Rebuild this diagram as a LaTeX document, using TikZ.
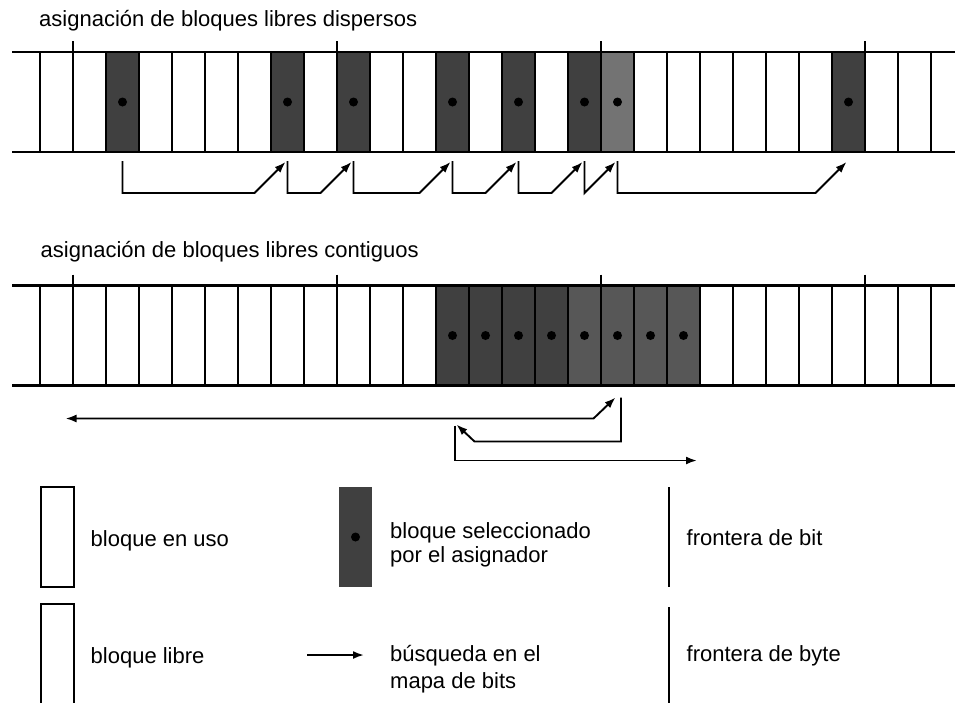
\documentclass[tikz,border=0pt]{standalone}
\usepackage{fontspec}
\setmainfont{Liberation Sans}
\usetikzlibrary{arrows.meta}

\begin{document}
\begin{tikzpicture}[x=1pt,y=-1pt,
cell/.style={minimum width=33pt,minimum height=100pt,inner sep=0pt,outer sep=0pt},
sel/.style={fill=black!75},
sep/.style={line width=1.6pt},
bytesep/.style={line width=2.2pt},
rail/.style={line width=2.6pt},
search/.style={-{Latex[length=11pt,width=8pt]},line width=1.9pt},
dot/.style={circle,fill=black,inner sep=0pt,minimum size=9pt},
lbl/.style={anchor=base west,inner sep=0pt,font=\fontsize{22}{25}\selectfont}]
\useasboundingbox (0,0) rectangle (955,702);
\clip (0,0) rectangle (955,702);
\node[lbl] (titulo1) at (39,26) {asignación de bloques libres dispersos};
\node[lbl] (titulo2) at (40.5,257) {asignación de bloques libres contiguos};
\foreach \i in {0,...,27} {
  \node[cell] (p\i) at ({56.5+33*\i},102) {};
  \node[cell] (q\i) at ({56.5+33*\i},335.5) {};
}
\foreach \i in {2,7,9,12,14,16,24} \fill[sel] (p\i.north west) rectangle (p\i.south east);
\fill[black!55] (p17.north west) rectangle (p17.south east);
\foreach \i in {12,...,15} \fill[sel] (q\i.north west) rectangle (q\i.south east);
\foreach \i in {16,...,19} \fill[black!66] (q\i.north west) rectangle (q\i.south east);
\foreach \i in {0,...,27} {
  \draw[sep] (p\i.north west) -- (p\i.south west);
  \draw[sep] (q\i.north west) -- (q\i.south west);
}
\foreach \i in {1,9,17,25} {
  \draw[bytesep] ([yshift=11pt]p\i.north west) -- (p\i.south west);
  \draw[bytesep] ([yshift=11pt]q\i.north west) -- (q\i.south west);
}
\draw[rail] (12,52) -- (960,52);
\draw[rail] (12,152) -- (960,152);
\draw[rail] (12,285.5) -- (960,285.5);
\draw[rail] (12,385.5) -- (960,385.5);
\foreach \i in {2,7,9,12,14,16,17,24} \node[dot] at (p\i) {};
\foreach \i in {12,...,19} \node[dot] at (q\i) {};
\foreach \a/\b in {2/7,7/9,9/12,12/14,14/16,16/17,17/24}
  \draw[search] ([yshift=-9pt]p\a.south) |- ([xshift=-33pt,yshift=-41pt]p\b.south) -- ([xshift=-2pt,yshift=-10pt]p\b.south);
\draw[search,{Latex[length=11pt,width=8pt]}-{Latex[length=11pt,width=8pt]}] ([xshift=9pt,yshift=-33pt]q0.south) -- ([xshift=-24pt,yshift=-33pt]q17.south) -- ([xshift=-2pt,yshift=-12pt]q17.south);
\draw[search] ([xshift=3.5pt,yshift=-12pt]q17.south) -- ([xshift=3.5pt,yshift=-56pt]q17.south) -- ([xshift=22pt,yshift=-56pt]q12.south) -- ([xshift=4pt,yshift=-39pt]q12.south);
\draw[search] ([xshift=2.5pt,yshift=-40pt]q12.south) |- ([xshift=-3pt,yshift=-75pt]q19.south east);
\node[cell,draw,line width=1.4pt] (uso) at (57.3,537) {};
\node[cell,draw,line width=1.4pt,minimum height=110pt] (libre) at (57.3,659) {};
\node[cell,sel] (elegido) at (355.5,537) {};
\node[dot] at (elegido) {};
\coordinate (bitA) at (669,487);
\coordinate (bitB) at (669,587);
\coordinate (byteA) at (669,607);
\coordinate (byteB) at (669,710);
\coordinate (busA) at (307,655);
\coordinate (busB) at (364,655);
\draw[line width=1.3pt] (bitA) -- (bitB);
\draw[line width=2pt] (byteA) -- (byteB);
\draw[search] (busA) -- (busB);
\node[lbl] (usotxt) at (90.5,546.5) {bloque en uso};
\node[lbl] (libretxt) at (90.5,663) {bloque libre};
\node[lbl] (seltxtA) at (390,538) {bloque seleccionado};
\node[lbl] (seltxtB) at (390,562) {por el asignador};
\node[lbl] (bustxtA) at (390,661.5) {búsqueda en el};
\node[lbl] (bustxtB) at (390,688) {mapa de bits};
\node[lbl] (bittxt) at (686.5,545.5) {frontera de bit};
\node[lbl] (bytetxt) at (686.5,661.5) {frontera de byte};
\end{tikzpicture}
\end{document}
